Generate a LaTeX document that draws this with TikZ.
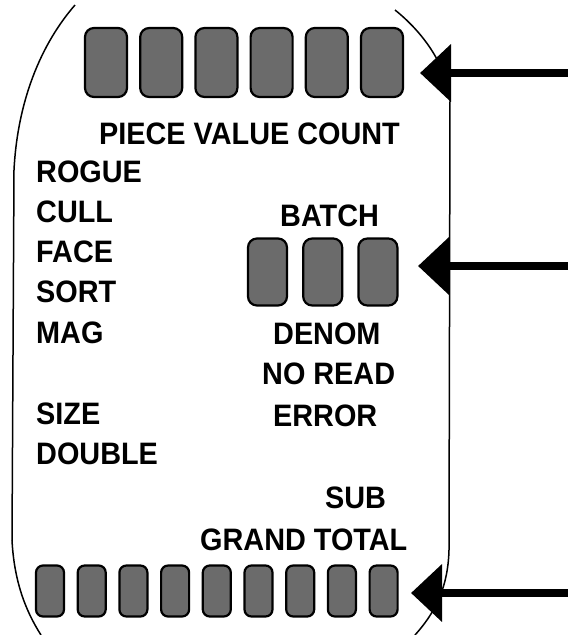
\documentclass[tikz,border=0pt]{standalone}
\usepackage{fontspec}
\usepackage{tikz}
\usetikzlibrary{positioning,arrows.meta}
\newfontfamily\panelfont{Liberation Sans Bold}[FakeStretch=0.93]
\tikzset{
  digit/.style={draw,line width=2.2pt,rounded corners=9pt,fill=black!58},
  bigdigit/.style={digit,minimum width=42pt,minimum height=69pt},
  middigit/.style={digit,minimum width=39pt,minimum height=67pt},
  smalldigit/.style={digit,minimum width=28pt,minimum height=51pt,rounded corners=7pt},
  lbl/.style={anchor=base west,inner sep=0pt,font=\panelfont\fontsize{31}{31}\selectfont},
  bigarrow/.style={line width=8pt,-{Triangle[length=31pt,width=56pt]}}
}
\begin{document}
\begin{tikzpicture}[x=1pt,y=-1pt]
      \useasboundingbox (0,0) rectangle (568,635);
      %% Panel outline
      \draw[line width=1.5pt] (75,5) .. controls (36,50) and (17,110) .. (14,170)
        -- (12,540) .. controls (14,580) and (25,610) .. (41,635);
      \draw[line width=1.5pt] (395,10) .. controls (420,30) and (446,62) .. (450,100)
        -- (449,550) .. controls (448,590) and (433,615) .. (415,635);
      %% Top display
      \node[bigdigit] (top1) at (106,62.5) {};
      \foreach \i [count=\j from 2] in {1,...,5}
        \node[bigdigit,right=11pt of top\i] (top\j) {};
      %% Batch display
      \node[middigit] (mid1) at (267.5,272) {};
      \foreach \i [count=\j from 2] in {1,2}
        \node[middigit,right=14pt of mid\i] (mid\j) {};
      %% Total display
      \node[smalldigit] (bot1) at (50,591) {};
      \foreach \i [count=\j from 2] in {1,...,8}
        \node[smalldigit,right=11.5pt of bot\i] (bot\j) {};
      %% Labels
      \node[lbl] (pvc) at (99,144) {PIECE VALUE COUNT};
      \node[lbl] (rogue) at (36,182) {ROGUE};
      \node[lbl] (cull) at (36,222) {CULL};
      \node[lbl] (face) at (36,262) {FACE};
      \node[lbl] (sort) at (36,302) {SORT};
      \node[lbl] (mag) at (36,343) {MAG};
      \node[lbl] (size) at (36,424) {SIZE};
      \node[lbl] (double) at (36,464) {DOUBLE};
      \node[lbl] (batch) at (280,226) {BATCH};
      \node[lbl] (denom) at (273,344) {DENOM};
      \node[lbl] (noread) at (262,384) {NO READ};
      \node[lbl] (error) at (273,426) {ERROR};
      \node[lbl] (sub) at (325,508) {SUB};
      \node[lbl] (grand) at (200,550) {GRAND TOTAL};
      %% Arrows
      \coordinate (topin) at (568,73);
      \coordinate (toptip) at (420,73);
      \coordinate (midin) at (568,266);
      \coordinate (midtip) at (418,266);
      \coordinate (botin) at (568,593);
      \coordinate (bottip) at (411,593);
      \draw[bigarrow] (topin) -- (toptip);
      \draw[bigarrow] (midin) -- (midtip);
      \draw[bigarrow] (botin) -- (bottip);
    \end{tikzpicture}
\end{document}
